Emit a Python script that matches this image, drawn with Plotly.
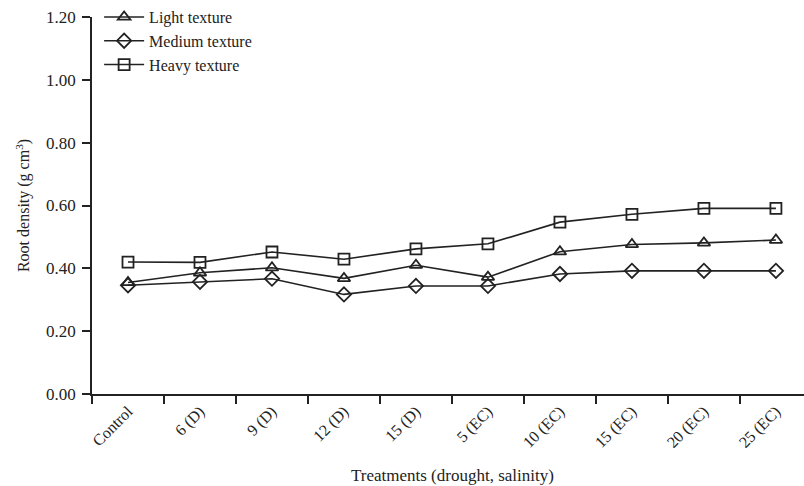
import plotly.graph_objects as go

# Treatment categories along the x axis
treatments = ["Control", "6 (D)", "9 (D)", "12 (D)", "15 (D)",
              "5 (EC)", "10 (EC)", "15 (EC)", "20 (EC)", "25 (EC)"]

# Root density (g cm-3) for each soil texture
light_texture = [0.355, 0.386, 0.402, 0.368, 0.410, 0.372, 0.453, 0.476, 0.481, 0.490]
medium_texture = [0.346, 0.357, 0.367, 0.317, 0.344, 0.344, 0.382, 0.392, 0.392, 0.392]
heavy_texture = [0.420, 0.419, 0.452, 0.429, 0.462, 0.478, 0.547, 0.572, 0.591, 0.591]

y_ticks = [0.0, 0.2, 0.4, 0.6, 0.8, 1.0, 1.2]

FONT = "Liberation Serif, Times New Roman, serif"
INK = "#222222"

series = [
    ("Light texture", light_texture, "triangle-up-open", 11),
    ("Medium texture", medium_texture, "diamond-open", 11),
    ("Heavy texture", heavy_texture, "square-open", 11),
]

fig = go.Figure()
for name, values, symbol, size in series:
    fig.add_trace(go.Scatter(
        x=treatments, y=values, name=name, mode="lines+markers",
        line=dict(color=INK, width=1.6),
        marker=dict(symbol=symbol, size=size, color=INK,
                    line=dict(color=INK, width=1.8)),
    ))

fig.update_layout(
    width=804, height=486,
    margin=dict(l=92, r=0, t=17, b=92),
    paper_bgcolor="white", plot_bgcolor="white",
    font=dict(family=FONT, size=17, color=INK),
    showlegend=True,
    legend=dict(x=0.01, y=1.045, xanchor="left", yanchor="top",
                bgcolor="rgba(0,0,0,0)", font=dict(size=16),
                tracegroupgap=0, itemwidth=40),
    xaxis=dict(
        type="category", range=[-0.5, 9.39],
        tickson="boundaries", ticks="outside", ticklen=8, tickwidth=1.6,
        tickcolor=INK, showline=True, linecolor=INK, linewidth=1.6,
        showgrid=False, zeroline=False, tickangle=-45,
        tickfont=dict(family=FONT, size=16, color=INK),
    ),
    yaxis=dict(
        range=[0, 1.2], tickvals=y_ticks,
        ticktext=[f"{v:.2f}" for v in y_ticks],
        ticks="outside", ticklen=8, tickwidth=1.6, tickcolor=INK,
        ticklabelstandoff=3,
        showline=True, linecolor=INK, linewidth=1.6,
        showgrid=False, zeroline=False,
        tickfont=dict(family=FONT, size=17, color=INK),
        title=dict(text="Root density (g cm<sup>3</sup>)",
                   font=dict(family=FONT, size=16, color=INK), standoff=12),
    ),
)

fig.add_annotation(
    text="Treatments (drought, salinity)", xref="paper", yref="paper",
    x=(452 - 92) / (804 - 92), y=-0.215, xanchor="center", yanchor="middle",
    showarrow=False, font=dict(family=FONT, size=17, color=INK),
)

fig.write_html("out.html")
